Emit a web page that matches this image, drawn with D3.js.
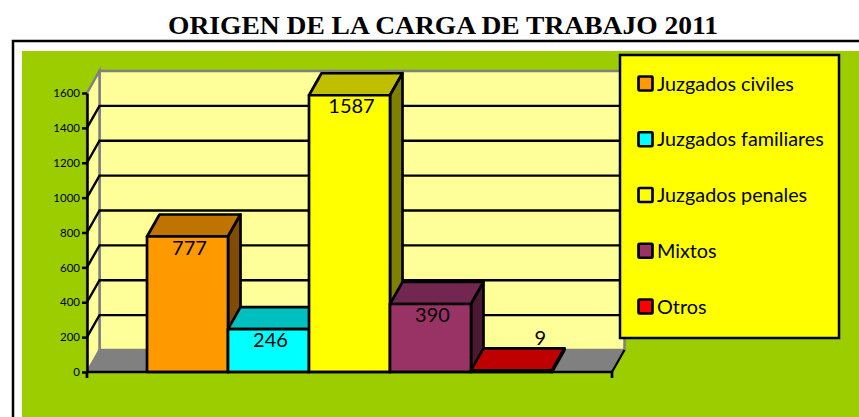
<!DOCTYPE html>
<html><head><meta charset="utf-8">
<script src="https://cdn.jsdelivr.net/npm/d3@7"></script>
<style>html,body{margin:0;padding:0;background:#fff}svg{display:block}text{font-family:Lato,"Open Sans",sans-serif;fill:#000}</style>
</head><body><svg id="c" width="859" height="417"></svg>
<script>
const titleText = "ORIGEN DE LA CARGA DE TRABAJO 2011";
const categories = ["Juzgados civiles","Juzgados familiares","Juzgados penales","Mixtos","Otros"];
const values = [777,246,1587,390,9];
const colors = ["#FF9900","#00FFFF","#FFFF00","#993366","#FF0000"];
const topColors = ["#BF7300","#00BFBF","#BFBF00","#732650","#BF0000"];
const sideColors = ["#7F4C00","#007F7F","#7F7F00","#4C1933","#7F0000"];
const tickValues = [0,200,400,600,800,1000,1200,1400,1600];

const svg = d3.select("#c");
const dx = 12.5, dy = -22;
const x = d3.scaleBand().domain(categories).range([87,612]).paddingInner(0).paddingOuter(0.741);
const y = d3.scaleLinear().domain([0,1600]).range([372,93]);
const x0 = x.range()[0], x1 = x.range()[1], yB = y(0), yT = y(1600);
const poly = pts => pts.map(p=>p.join(",")).join(" ");

// Title and frame
svg.append("text").attr("x",443).attr("y",34).attr("text-anchor","middle")
  .attr("textLength",550).attr("lengthAdjust","spacingAndGlyphs")
  .style("font-family","'Liberation Serif',serif").style("font-weight","bold").style("font-size","25.5px").text(titleText);
svg.append("path").attr("d","M13,417V41H859").attr("fill","none").attr("stroke","#000").attr("stroke-width",2.5);
svg.append("rect").attr("x",22).attr("y",51).attr("width",837).attr("height",366).attr("fill","#9BCD00");

// Walls and floor
svg.append("polygon").attr("points",poly([[x0+dx,yT+dy],[x1+dx,yT+dy],[x1+dx,yB+dy],[x0+dx,yB+dy]]))
  .attr("fill","#FFFF99").attr("stroke","#808080").attr("stroke-width",2.5);
svg.append("polygon").attr("points",poly([[x0,yT],[x0+dx,yT+dy],[x0+dx,yB+dy],[x0,yB]]))
  .attr("fill","#FFFF99").attr("stroke","#808080").attr("stroke-width",2.5);
svg.append("polygon").attr("points",poly([[x0,yB],[x0+dx,yB+dy],[x1+dx,yB+dy],[x1,yB]]))
  .attr("fill","#808080").attr("stroke","#808080").attr("stroke-width",1);
svg.append("line").attr("x1",x1).attr("y1",yB).attr("x2",x1+dx).attr("y2",yB+dy).attr("stroke","#000").attr("stroke-width",2.2);

// Gridlines
const grid = tickValues.filter(t=>t>0 && t<1600);
svg.append("g").selectAll("path").data(grid).join("path")
  .attr("d",t=>`M${x0},${y(t)}L${x0+dx},${y(t)+dy}H${x1+dx}`)
  .attr("fill","none").attr("stroke","#000").attr("stroke-width",2.4);

// Bars
const bars = svg.append("g").selectAll("g").data(categories).join("g").attr("stroke","#000").attr("stroke-width",2.7).attr("stroke-linejoin","round");
bars.append("polygon").attr("fill",(d,i)=>topColors[i]).attr("points",(d,i)=>{
  const l=x(d), r=l+x.bandwidth(), t=y(values[i]);
  return poly([[l,t],[l+dx,t+dy],[r+dx,t+dy],[r,t]]);});
bars.append("polygon").attr("fill",(d,i)=>sideColors[i]).attr("points",(d,i)=>{
  const r=x(d)+x.bandwidth(), t=y(values[i]);
  return poly([[r,t],[r+dx,t+dy],[r+dx,yB+dy],[r,yB]]);});
bars.append("rect").attr("fill",(d,i)=>colors[i]).attr("x",d=>x(d)).attr("width",x.bandwidth())
  .attr("y",(d,i)=>y(values[i])).attr("height",(d,i)=>yB-y(values[i]));

// Axes
const axisY = d3.axisLeft(y).tickValues(tickValues).tickSize(5).tickPadding(2).tickSizeOuter(0).tickFormat(d3.format("d"));
const gy = svg.append("g").attr("transform",`translate(${x0},0)`).call(axisY);
gy.selectAll("path,line").attr("stroke","#000").attr("stroke-width",2.5);
gy.selectAll("text").style("font-size","11.5px").style("font-family","Lato,sans-serif");
svg.append("path").attr("d",`M${x0},${yB}H${x1}M${x0},${yB}v6M${x1},${yB}v6`).attr("fill","none").attr("stroke","#000").attr("stroke-width",2.7);

// Value labels
svg.append("g").selectAll("text").data(categories).join("text")
  .attr("text-anchor","middle").style("font-size","20px")
  .attr("x",(d,i)=>{const c=x(d)+x.bandwidth()/2; return yB-y(values[i])<20 ? c+2.3*dx : c+2;})
  .attr("y",(d,i)=>yB-y(values[i])<20 ? y(values[i])-25 : y(values[i])+18)
  .text((d,i)=>values[i]);

// Legend
const lg = svg.append("g");
lg.append("rect").attr("x",620).attr("y",55).attr("width",219).attr("height",283).attr("fill","#FFFF00").attr("stroke","#000").attr("stroke-width",2.5);
const ly = d3.scalePoint().domain(categories).range([84,307]);
const items = lg.selectAll("g").data(categories).join("g").attr("transform",d=>`translate(0,${ly(d)})`);
items.append("rect").attr("x",638.5).attr("y",-7.5).attr("width",14).attr("height",14).attr("rx",1)
  .attr("fill",(d,i)=>colors[i]).attr("stroke","#000").attr("stroke-width",2.7);
items.append("text").attr("x",657).attr("y",6.5).style("font-size","19.8px").text(d=>d);
</script></body></html>
